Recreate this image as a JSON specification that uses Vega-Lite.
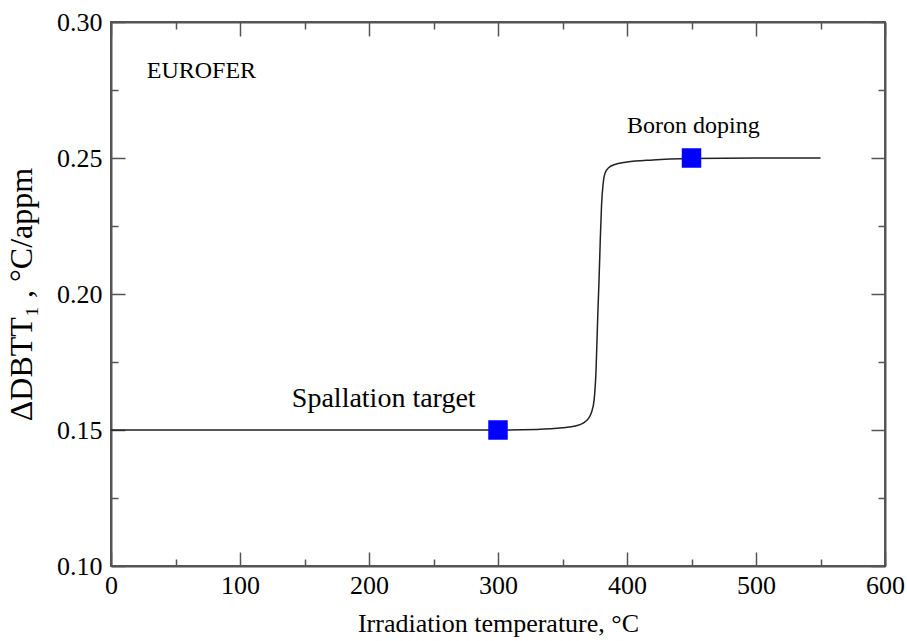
{
  "$schema": "https://vega.github.io/schema/vega-lite/v6.json",
  "autosize": "none",
  "width": 774,
  "height": 544,
  "padding": {"left": 111, "top": 22, "right": 22, "bottom": 75},
  "background": "white",
  "config": {
    "view": {"stroke": "#555555", "strokeWidth": 2},
    "axis": {
      "grid": false,
      "labelFont": "Liberation Serif",
      "labelFontSize": 26,
      "labelColor": "black",
      "titleFont": "Liberation Serif",
      "titleFontSize": 26,
      "titleFontWeight": "normal",
      "titleColor": "black",
      "domainColor": "#555555",
      "domainWidth": 2,
      "tickColor": "#555555",
      "tickWidth": 1.5
    }
  },
  "datasets": {
    "curve": [
      {"T": 0, "V": 0.15},
      {"T": 100, "V": 0.15},
      {"T": 200, "V": 0.15},
      {"T": 300, "V": 0.15},
      {"T": 330, "V": 0.1502},
      {"T": 350, "V": 0.1508},
      {"T": 360, "V": 0.1515},
      {"T": 366, "V": 0.1525},
      {"T": 370, "V": 0.1542},
      {"T": 372.5, "V": 0.1565},
      {"T": 374.5, "V": 0.161},
      {"T": 376, "V": 0.172},
      {"T": 377.2, "V": 0.19},
      {"T": 378.3, "V": 0.205},
      {"T": 379.3, "V": 0.22},
      {"T": 380.3, "V": 0.233},
      {"T": 381.5, "V": 0.2405},
      {"T": 383, "V": 0.2445},
      {"T": 386, "V": 0.2465},
      {"T": 390, "V": 0.2475},
      {"T": 400, "V": 0.2485},
      {"T": 420, "V": 0.2493},
      {"T": 450, "V": 0.2498},
      {"T": 500, "V": 0.25},
      {"T": 550, "V": 0.25}
    ],
    "points": [
      {"T": 300, "V": 0.15},
      {"T": 450, "V": 0.25}
    ],
    "labels": [
      {"T": 27.7, "V": 0.2793, "label": "EUROFER", "fs": 24},
      {"T": 140.2, "V": 0.1585, "label": "Spallation target", "fs": 28},
      {"T": 400, "V": 0.2591, "label": "Boron doping", "fs": 24}
    ]
  },
  "resolve": {"axis": {"x": "independent", "y": "independent"}},
  "layer": [
    {
      "data": {"name": "curve"},
      "mark": {"type": "line", "color": "#222222", "strokeWidth": 1.5, "interpolate": "monotone", "clip": true},
      "encoding": {
        "x": {
          "field": "T", "type": "quantitative",
          "scale": {"domain": [0, 600], "nice": false, "zero": false},
          "axis": {
            "orient": "bottom",
            "title": "Irradiation temperature, °C",
            "titlePadding": 5,
            "values": [0, 50, 100, 150, 200, 250, 300, 350, 400, 450, 500, 550, 600],
            "format": "d",
            "labelExpr": "datum.value % 100 === 0 ? datum.label : ''",
            "tickSize": {"condition": {"test": "datum.value % 100 === 0", "value": -14}, "value": -7},
            "labelPadding": 20,
            "labelFlush": false,
            "labelOverlap": false
          }
        },
        "y": {
          "field": "V", "type": "quantitative",
          "scale": {"domain": [0.1, 0.3], "nice": false, "zero": false},
          "axis": {
            "orient": "left",
            "title": "ΔDBTT₁ ,  °C/appm",
            "titleFontSize": 32,
            "titlePadding": 18,
            "values": [0.1, 0.125, 0.15, 0.175, 0.2, 0.225, 0.25, 0.275, 0.3],
            "format": ".2f",
            "labelExpr": "round(datum.value * 1000) % 50 === 0 ? datum.label : ''",
            "tickSize": {"condition": {"test": "round(datum.value * 1000) % 50 === 0", "value": -14}, "value": -7},
            "labelPadding": 23,
            "labelFlush": false,
            "labelOverlap": false
          }
        }
      }
    },
    {
      "data": {"name": "points"},
      "mark": {"type": "square", "size": 380, "color": "#0000ff", "opacity": 1, "filled": true},
      "encoding": {
        "x": {
          "field": "T", "type": "quantitative",
          "scale": {"domain": [0, 600], "nice": false, "zero": false},
          "axis": {
            "orient": "top",
            "title": null,
            "labels": false,
            "values": [0, 50, 100, 150, 200, 250, 300, 350, 400, 450, 500, 550, 600],
            "tickSize": {"condition": {"test": "datum.value % 100 === 0", "value": -14}, "value": -7}
          }
        },
        "y": {
          "field": "V", "type": "quantitative",
          "scale": {"domain": [0.1, 0.3], "nice": false, "zero": false},
          "axis": {
            "orient": "right",
            "title": null,
            "labels": false,
            "values": [0.1, 0.125, 0.15, 0.175, 0.2, 0.225, 0.25, 0.275, 0.3],
            "tickSize": {"condition": {"test": "round(datum.value * 1000) % 50 === 0", "value": -14}, "value": -7}
          }
        }
      }
    },
    {
      "data": {"name": "labels"},
      "mark": {"type": "text", "font": "Liberation Serif", "align": "left", "baseline": "alphabetic", "color": "black"},
      "encoding": {
        "x": {"field": "T", "type": "quantitative", "scale": {"domain": [0, 600], "nice": false, "zero": false}, "axis": null},
        "y": {"field": "V", "type": "quantitative", "scale": {"domain": [0.1, 0.3], "nice": false, "zero": false}, "axis": null},
        "text": {"field": "label"},
        "size": {"field": "fs", "type": "quantitative", "scale": null}
      }
    }
  ]
}
